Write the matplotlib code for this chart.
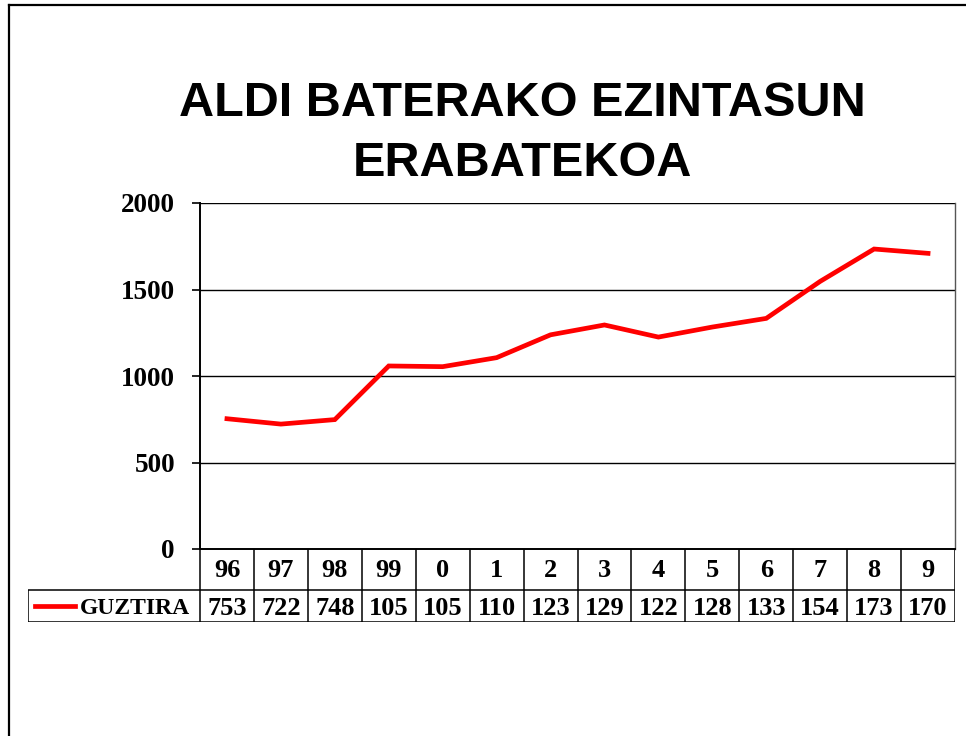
import matplotlib.pyplot as plt
from matplotlib.lines import Line2D

years = ['96', '97', '98', '99', '0', '1', '2', '3', '4', '5', '6', '7', '8', '9']
guztira = [753, 722, 748, 1058, 1054, 1106, 1238, 1295, 1225, 1283, 1333, 1547, 1734, 1709]
series_name = 'GUZTIRA'
yticks = [0, 500, 1000, 1500, 2000]

W, H = 966, 736
serif = 'Liberation Serif'
sans = 'Liberation Sans'


def fx(px):
    return px / W


def fy(py):
    return 1 - py / H


fig = plt.figure(figsize=(W / 100, H / 100), dpi=100)

# outer frame (left and top only)
fig.add_artist(Line2D([fx(9), fx(9)], [fy(5), 0], color='black', lw=1.6))
fig.add_artist(Line2D([fx(9), 1], [fy(5), fy(5)], color='black', lw=1.6))

fig.text(fx(522), fy(104), 'ALDI BATERAKO EZINTASUN', ha='center', va='center',
         fontsize=35, fontweight='bold', family=sans)
fig.text(fx(522), fy(163), 'ERABATEKOA', ha='center', va='center',
         fontsize=35, fontweight='bold', family=sans)

left, right, top, bottom = 200, 955, 203, 549
ax = fig.add_axes([fx(left), fy(bottom), fx(right - left), (bottom - top) / H])
n = len(years)
xs = [i + 0.5 for i in range(n)]
ax.plot(xs, guztira, color='#ff0000', lw=3.4, solid_joinstyle='miter')
ax.set_xlim(0, n)
ax.set_ylim(0, 2000)
ax.set_yticks(yticks)
ax.set_yticklabels([str(t) for t in yticks], fontsize=19.5, fontweight='bold', family=serif)
ax.set_xticks([])
ax.tick_params(axis='y', length=6, width=1.2, pad=12, direction='out')
for v in yticks[1:]:
    ax.axhline(v, color='black', lw=1.0, zorder=0)
for side in ['left', 'bottom']:
    ax.spines[side].set_linewidth(1.4)
ax.spines['top'].set_visible(False)
ax.spines['right'].set_color('#555555')
ax.spines['right'].set_linewidth(1.0)

# data table below the plot
tleft, tbottom, rowsplit = 28, 622, 590
col_w = (right - left) / n
tax = fig.add_axes([fx(tleft), fy(tbottom), fx(right - tleft), (tbottom - bottom) / H])
x0 = -(left - tleft) / col_w
tax.set_xlim(x0, n)
r1 = (tbottom - rowsplit) / (tbottom - bottom)
tax.set_ylim(0, 1)
tax.axis('off')
lk = dict(color='black', lw=1.1, solid_capstyle='butt')
tax.plot([x0, n], [0, 0], **lk)
tax.plot([x0, n], [r1, r1], **lk)
tax.plot([x0, x0], [0, r1], **lk)
for i in range(n + 1):
    tax.plot([i, i], [0, 1], **lk)
for i, (yr, v) in enumerate(zip(years, guztira)):
    tax.text(i + 0.5, (1 + r1) / 2 - 0.02, yr, ha='center', va='center',
             fontsize=19, fontweight='bold', family=serif)
    tax.text(i + 0.5, r1 / 2 - 0.03, str(v)[:3], ha='center', va='center',
             fontsize=19, fontweight='bold', family=serif)
tax.plot([x0 + 7 / col_w, x0 + 47 / col_w], [r1 / 2, r1 / 2], color='#ff0000', lw=3.4)
tax.text(x0 + 52 / col_w, r1 / 2 - 0.03, series_name, ha='left', va='center',
         fontsize=17, fontweight='bold', family=serif)

fig.savefig('out.png', dpi=100)
